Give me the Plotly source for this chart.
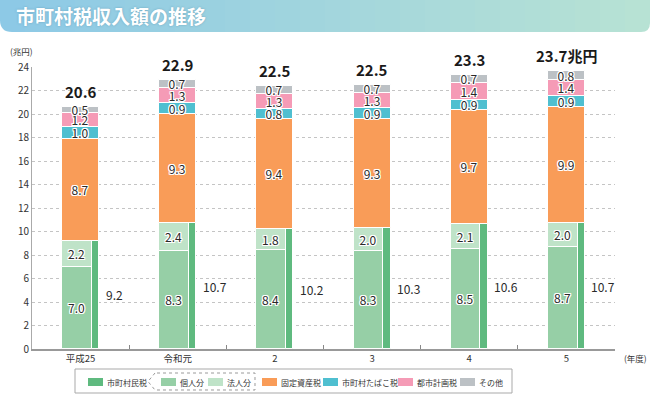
import plotly.graph_objects as go

# ---- data ----
years = ["平成25", "令和元", "2", "3", "4", "5"]
shichoson = [9.2, 10.7, 10.2, 10.3, 10.6, 10.7]   # 市町村民税
kojin = [7.0, 8.3, 8.4, 8.3, 8.5, 8.7]            # 個人分
hojin = [2.2, 2.4, 1.8, 2.0, 2.1, 2.0]            # 法人分
kotei = [8.7, 9.3, 9.4, 9.3, 9.7, 9.9]            # 固定資産税
tabako = [1.0, 0.9, 0.8, 0.9, 0.9, 0.9]           # 市町村たばこ税
toshi = [1.2, 1.3, 1.3, 1.3, 1.4, 1.4]            # 都市計画税
sonota = [0.5, 0.7, 0.7, 0.7, 0.7, 0.8]           # その他
totals = [20.6, 22.9, 22.5, 22.5, 23.3, 23.7]
total_labels = ["20.6", "22.9", "22.5", "22.5", "23.3", "23.7兆円"]
yticks = list(range(0, 25, 2))

FONT = "Noto Sans CJK JP"
C_SHI = "#5fba7f"
C_KOJ = "#96cfa6"
C_HOJ = "#bfe3c8"
C_KOT = "#f99c58"
C_TAB = "#4fbfd0"
C_TOS = "#f59bb6"
C_SON = "#bcc1c5"

SHADOW = ("1px 1px 0px white, -1px -1px 0px white, 1px -1px 0px white, "
          "-1px 1px 0px white, 0px 1px 0px white, 0px -1px 0px white, "
          "1px 0px 0px white, -1px 0px 0px white")

fig = go.Figure()

def add_bar(vals, base, color, offset, width, text=True):
    fig.add_trace(go.Bar(
        x=years, y=vals, base=base,
        offset=offset, width=width,
        marker=dict(color=color, line=dict(color="white", width=1)),
        text=[f"{v:.1f}" for v in vals] if text else None,
        textposition="inside" if text else "none",
        insidetextanchor="middle", textangle=0,
        textfont=dict(family=FONT, size=12, color="#2a2a2a", shadow=SHADOW),
        hoverinfo="skip", showlegend=False,
    ))

zero = [0] * len(years)
base_kot = shichoson
base_tab = [a + b for a, b in zip(base_kot, kotei)]
base_tos = [a + b for a, b in zip(base_tab, tabako)]
base_son = [a + b for a, b in zip(base_tos, toshi)]

FULL_OFF, FULL_W = -0.19, 0.38
add_bar(kojin, zero, C_KOJ, FULL_OFF, 0.305)
add_bar(hojin, kojin, C_HOJ, FULL_OFF, 0.305)
add_bar(shichoson, zero, C_SHI, 0.115, 0.075, text=False)
add_bar(kotei, base_kot, C_KOT, FULL_OFF, FULL_W)
add_bar(tabako, base_tab, C_TAB, FULL_OFF, FULL_W)
add_bar(toshi, base_tos, C_TOS, FULL_OFF, FULL_W)
add_bar(sonota, base_son, C_SON, FULL_OFF, FULL_W)

annotations = []
shapes = []
# 市町村民税 labels (right of bars)
for yr, v in zip(years, shichoson):
    annotations.append(dict(x=yr, y=v / 2, text=f"{v:.1f}", showarrow=False,
                            xanchor="left", xshift=23,
                            font=dict(family=FONT, size=12, color="#2a2a2a")))
# totals
for i, (yr, lab) in enumerate(zip(years, total_labels)):
    top = base_son[i] + sonota[i]
    annotations.append(dict(x=yr, y=top, text=f"<b>{lab}</b>", showarrow=False,
                            yanchor="bottom", yshift=3,
                            font=dict(family=FONT, size=15, color="#1a1a1a")))

# ---- pixel helpers (layout) ----
PL, PR, PT, PB = 32, 615, 67, 349
def xp(px):
    return (px - PL) / (PR - PL)
def yp(py):
    return (PB - py) / (PB - PT)
def P(px, py):
    return f"{xp(px):.5f},{yp(py):.5f}"

# title banner with gradient stripes
c0 = (0x8d, 0xc9, 0xe6)
c1 = (0xb7, 0xe2, 0xd4)
N = 26
W = 650 / N
BH = 32
for i in range(N):
    t = i / (N - 1)
    col = "rgb(%d,%d,%d)" % tuple(round(a + (b - a) * t) for a, b in zip(c0, c1))
    x0, x1 = i * W, (i + 1) * W + 0.6
    if i == 0:
        path = (f"M {P(0,0)} L {P(x1,0)} L {P(x1,BH)} L {P(12,BH)} "
                f"Q {P(0,BH)} {P(0,BH-12)} Z")
    elif i == N - 1:
        path = (f"M {P(x0,0)} L {P(650,0)} L {P(650,BH-9)} "
                f"Q {P(650,BH)} {P(641,BH)} L {P(x0,BH)} Z")
    else:
        path = f"M {P(x0,0)} L {P(x1,0)} L {P(x1,BH)} L {P(x0,BH)} Z"
    shapes.append(dict(type="path", xref="paper", yref="paper", path=path,
                       fillcolor=col, line=dict(width=0), layer="below"))
annotations.append(dict(xref="paper", yref="paper", x=xp(14), y=yp(16),
                        xanchor="left", yanchor="middle", showarrow=False,
                        text="<b>市町村税収入額の推移</b>",
                        font=dict(family=FONT, size=19, color="white",
                                  shadow="0px 0px 2px rgba(60,120,150,0.5)")))

# axis unit labels
annotations.append(dict(xref="paper", yref="paper", x=xp(8), y=yp(51),
                        xanchor="left", yanchor="middle", showarrow=False,
                        text="(兆円)", font=dict(family=FONT, size=8.5, color="#333")))
annotations.append(dict(xref="paper", yref="paper", x=xp(622), y=yp(358),
                        xanchor="left", yanchor="middle", showarrow=False,
                        text="(年度)", font=dict(family=FONT, size=8.5, color="#333")))

# ---- custom legend ----
shapes.append(dict(type="rect", xref="paper", yref="paper",
                   x0=xp(75), x1=xp(512), y0=yp(369), y1=yp(393),
                   fillcolor="white", line=dict(color="#a9a9a9", width=1)))
# dashed bracket box around 個人分/法人分
shapes.append(dict(type="path", xref="paper", yref="paper",
                   path=(f"M {P(155,373)} L {P(148,381.5)} L {P(155,390)} "
                         f"L {P(255,390)} L {P(255,373)} Z"),
                   line=dict(color="#9a9a9a", width=1, dash="dot")))
leg = [("市町村民税", C_SHI, 88), ("個人分", C_KOJ, 161), ("法人分", C_HOJ, 208),
       ("固定資産税", C_KOT, 262), ("市町村たばこ税", C_TAB, 323),
       ("都市計画税", C_TOS, 398), ("その他", C_SON, 460)]
for name, col, sx in leg:
    shapes.append(dict(type="rect", xref="paper", yref="paper",
                       x0=xp(sx), x1=xp(sx + 15), y0=yp(378), y1=yp(386),
                       fillcolor=col, line=dict(width=0)))
    annotations.append(dict(xref="paper", yref="paper", x=xp(sx + 17), y=yp(382),
                            xanchor="left", yanchor="middle", showarrow=False,
                            text=name, font=dict(family=FONT, size=8, color="#333")))

fig.update_layout(
    width=650, height=395,
    margin=dict(l=PL, r=650 - PR, t=PT, b=395 - PB, pad=0),
    paper_bgcolor="white", plot_bgcolor="white",
    barmode="overlay",
    bargap=0,
    uniformtext=dict(mode="show", minsize=12),
    font=dict(family=FONT, color="#333"),
    annotations=annotations, shapes=shapes,
    xaxis=dict(type="category", categoryorder="array", categoryarray=years,
               tickson="boundaries", ticks="inside", ticklen=4, tickcolor="#888",
               showline=True, linecolor="#999", linewidth=1.5,
               showgrid=False, tickfont=dict(family=FONT, size=9.5, color="#333"),
               range=[-0.5, 5.5], fixedrange=True),
    yaxis=dict(range=[0, 24], tickvals=yticks, showline=True, linecolor="#aaa",
               linewidth=1, showgrid=True, gridcolor="#c4c4c4", griddash="dot",
               gridwidth=1, zeroline=False, ticks="",
               tickfont=dict(family=FONT, size=10, color="#333"), fixedrange=True),
)

fig.write_html("out.html", config={"displayModeBar": False},
               post_script="document.body.style.margin='0';")
